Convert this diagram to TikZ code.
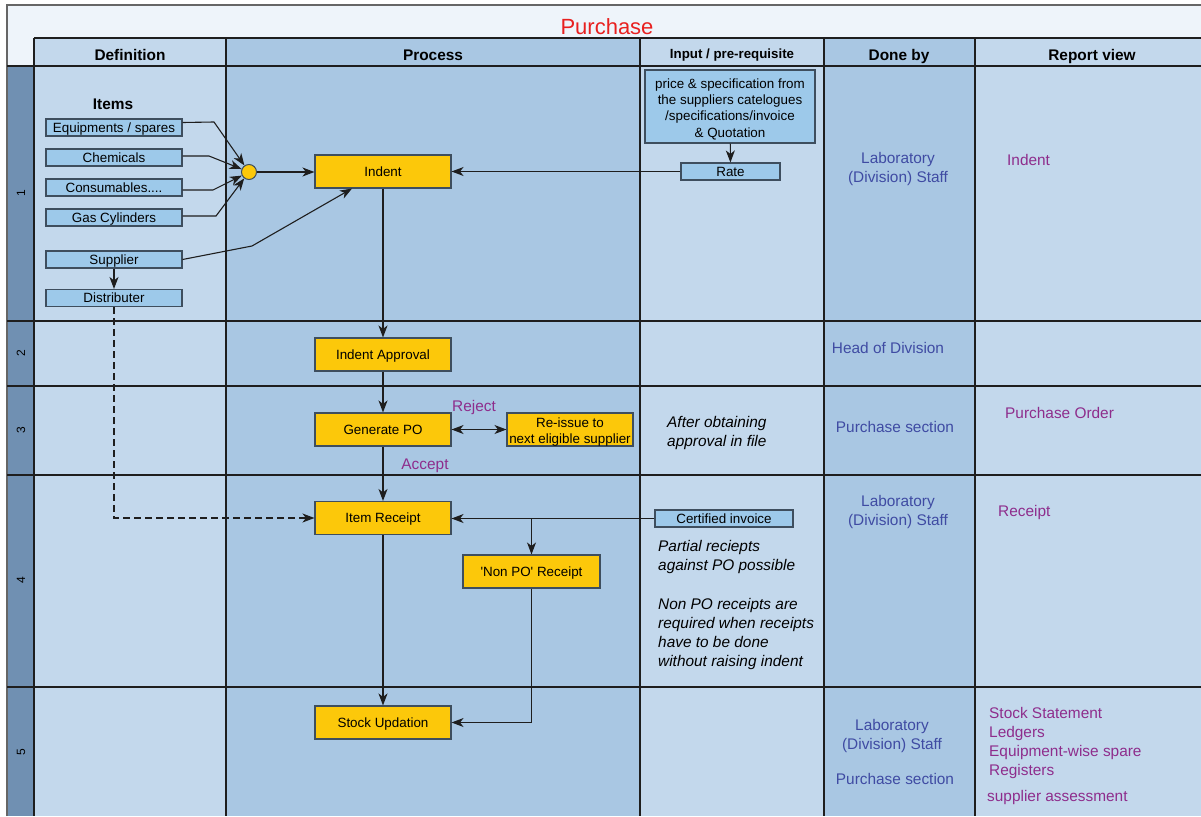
\documentclass[tikz,border=0pt]{standalone}
\usepackage{fontspec}
\setmainfont{Liberation Sans}[Ligatures=TeXOff]
\usetikzlibrary{arrows.meta}
\definecolor{lightcol}{HTML}{C3D8EC}
\definecolor{darkcol}{HTML}{A9C7E3}
\definecolor{stripcol}{HTML}{7090B2}
\definecolor{titlecol}{HTML}{EEF4FA}
\definecolor{boxblue}{HTML}{9DC9EA}
\definecolor{boxyel}{HTML}{FCC80A}
\definecolor{purp}{HTML}{8E2D8C}
\definecolor{bluet}{HTML}{3F4BA3}
\definecolor{titlered}{HTML}{E8201F}
\definecolor{lin}{HTML}{1E1E1E}
\definecolor{boxedge}{HTML}{3E4E5E}
\newcommand\fntbox{\fontsize{13.4}{16.3}\selectfont}
\newcommand\fntbig{\fontsize{15.4}{19}\selectfont}
\newcommand\fnthead{\fontsize{15.4}{19}\selectfont\bfseries}
\tikzset{
  gridl/.style={draw=lin, line width=1.4pt},
  boxbase/.style={line width=1.1pt, minimum width=136, inner sep=0, font=\fntbox, align=center},
  bbox/.style={boxbase, draw=boxedge, fill=boxblue, minimum height=17},
  ybox/.style={boxbase, draw=boxedge, fill=boxyel, minimum height=33},
  capsm/.style={text height=9.6pt, text depth=0pt},
  capbig/.style={text height=11pt, text depth=0pt},
  boxtext/.style={font=\fntbox, align=center, inner sep=0},
  arr/.style={draw=lin, line width=1.1pt, -{Stealth[length=12pt,width=9pt,inset=3.5pt]}},
  arrb/.style={draw=lin, line width=1.1pt, {Stealth[length=12pt,width=9pt,inset=3.5pt]}-{Stealth[length=12pt,width=9pt,inset=3.5pt]}},
  dashln/.style={dash pattern=on 7pt off 4pt},
  hdr/.style={font=\fnthead, inner sep=0, capbig},
  doneby/.style={font=\fntbig, text=bluet, align=center, inner sep=0},
  rep/.style={font=\fntbig, text=purp, align=left, inner sep=0, anchor=west},
  note/.style={font=\fntbig\itshape, align=left, inner sep=0, anchor=west},
  rownum/.style={font=\fontsize{12}{14}\selectfont, rotate=90, inner sep=0}
}
\begin{document}
\begin{tikzpicture}[x=1pt,y=-1pt]
\useasboundingbox (0,0) rectangle (1201,816);
\fill[white] (0,0) rectangle (1201,816);
% backgrounds
\fill[titlecol] (7,5) rectangle (1201,66);
\fill[stripcol] (7,66) rectangle (34,816);
\fill[lightcol] (34,38) rectangle (226,816);
\fill[darkcol] (226,38) rectangle (640,816);
\fill[lightcol] (640,38) rectangle (824,816);
\fill[darkcol] (824,38) rectangle (975,816);
\fill[lightcol] (975,38) rectangle (1201,816);
% frame and grid
\draw[draw=gray!80!black, line width=1.2pt] (7,816) -- (7,5) -- (1201,5);
\draw[gridl] (34,38) -- (1201,38);
\foreach \xx in {34,226,640,824,975} \draw[gridl] (\xx,38) -- (\xx,816);
\foreach \yy in {66,321,386,475,687} \draw[gridl] (7,\yy) -- (1201,\yy);
% title and headers
\node[text=titlered, font=\fontsize{22}{26}\selectfont, inner sep=0, text height=15.8pt, text depth=0pt] (title) at (607,27) {Purchase};
\node[hdr] (h1) at (130,54.5) {Definition};
\node[hdr] (h2) at (433,54.5) {Process};
\node[hdr, font=\fontsize{13.3}{16}\selectfont\bfseries, capsm] (h3) at (732,54) {Input / pre-requisite};
\node[hdr] (h4) at (899,54.5) {Done by};
\node[hdr] (h5) at (1092,54.5) {Report view};
% row numbers
\node[rownum] (r1) at (21,193) {1};
\node[rownum] (r2) at (21,353) {2};
\node[rownum] (r3) at (21,430) {3};
\node[rownum] (r4) at (21,580) {4};
\node[rownum] (r5) at (21,752) {5};
% definition column
\node[font=\fnthead, inner sep=0, capbig] (items) at (113,104) {Items};
\node[bbox, capsm] (eq) at (114,127.5) {Equipments / spares};
\node[bbox, capsm] (chem) at (114,157.5) {Chemicals};
\node[bbox, capsm] (cons) at (114,187.5) {Consumables....};
\node[bbox, capsm] (gas) at (114,217.5) {Gas Cylinders};
\node[bbox, capsm] (sup) at (114,259.5) {Supplier};
\node[bbox, capsm] (dist) at (114,298) {Distributer};
\node[circle, draw=boxedge, fill=boxyel, line width=1pt, minimum size=15, inner sep=0] (circ) at (249,172) {};
% process column
\node[ybox, capsm] (indent) at (383,171.5) {Indent};
\node[ybox, capsm] (appr) at (383,354.5) {Indent Approval};
\node[ybox, capsm] (gpo) at (383,429.5) {Generate PO};
\node[ybox, minimum width=126] (reissue) at (570,429.5) {};
\node[boxtext] (reissuet) at ([yshift=-2.5pt]reissue.center) {Re-issue to\\next eligible supplier};
\node[ybox, capsm] (irec) at (383,518) {Item Receipt};
\node[ybox, minimum width=137, capsm] (nonpo) at (531.5,571.5) {'Non PO' Receipt};
\node[ybox, capsm] (stock) at (383,722.5) {Stock Updation};
\node[font=\fntbig, text=purp, inner sep=0, capbig] (reject) at (474,405.5) {Reject};
\node[font=\fntbig, text=purp, inner sep=0, capbig] (accept) at (425,463.5) {Accept};
% input column
\node[bbox, minimum width=170, minimum height=73] (price) at (730,106.5) {};
\node[boxtext] (pricet) at ([yshift=-2.5pt]price.center) {price \& specification from\\the suppliers catelogues\\/specifications/invoice\\\& Quotation};
\node[bbox, minimum width=99, capsm] (rate) at (730.5,171.5) {Rate};
\node[bbox, minimum width=138, capsm] (cert) at (724,518.5) {Certified invoice};
\node[note] (n1) at (667,433) {After obtaining\\approval in file};
\node[note] (n2) at (658,557) {Partial reciepts\\against PO possible};
\node[note] (n3) at (658,634.5) {Non PO receipts are\\required when receipts\\have to be done\\without raising indent};
% done by
\node[doneby] (d1) at (898,169) {Laboratory\\(Division) Staff};
\node[doneby, capbig] (d2) at (888,347.5) {Head of Division};
\node[doneby, capbig] (d3) at (895,426.5) {Purchase section};
\node[doneby] (d4) at (898,512) {Laboratory\\(Division) Staff};
\node[doneby] (d5) at (892,736) {Laboratory\\(Division) Staff};
\node[doneby, capbig] (d6) at (895,778.5) {Purchase section};
% report view
\node[rep, capbig] (p1) at (1007,159.5) {Indent};
\node[rep, capbig] (p2) at (1005,412.5) {Purchase Order};
\node[rep, capbig] (p3) at (998,510.5) {Receipt};
\node[rep] (p4) at (989,743) {Stock Statement\\Ledgers\\Equipment-wise spare\\Registers};
\node[rep, capbig] (p5) at (987,795.5) {supplier assessment};
% connectors
\draw[arr] ([yshift=5pt]eq.east) -- (214,122) -- (circ);
\draw[arr] ([yshift=1.5pt]chem.east) -- (209,156) -- (circ);
\draw[arr] ([yshift=-2.5pt]cons.east) -- (213,190) -- (circ);
\draw[arr] ([yshift=1.5pt]gas.east) -- (216,216) -- (circ);
\draw[arr] (circ.east) -- (circ.east -| indent.west);
\draw[arr] (sup.east) -- (252,246) -- ([xshift=-31pt]indent.south);
\draw[arr] (sup) -- (dist);
\draw[arr, dashln] (dist.south) |- (irec.west);
\draw[arr] (price) -- (rate);
\draw[arr] (rate.west) -- (rate.west -| indent.east);
\draw[arr] (indent) -- (appr);
\draw[arr] (appr) -- (gpo);
\draw[arrb] (gpo) -- (reissue);
\draw[arr] (gpo) -- (irec);
\draw[arr] (cert.west) -- (cert.west -| irec.east);
\coordinate (br) at (nonpo.north |- cert.west);
\draw[arr] (br) -- (nonpo.north);
\draw[arr] (irec) -- (stock);
\draw[arr] (nonpo.south) |- (stock.east);
\end{tikzpicture}
\end{document}
